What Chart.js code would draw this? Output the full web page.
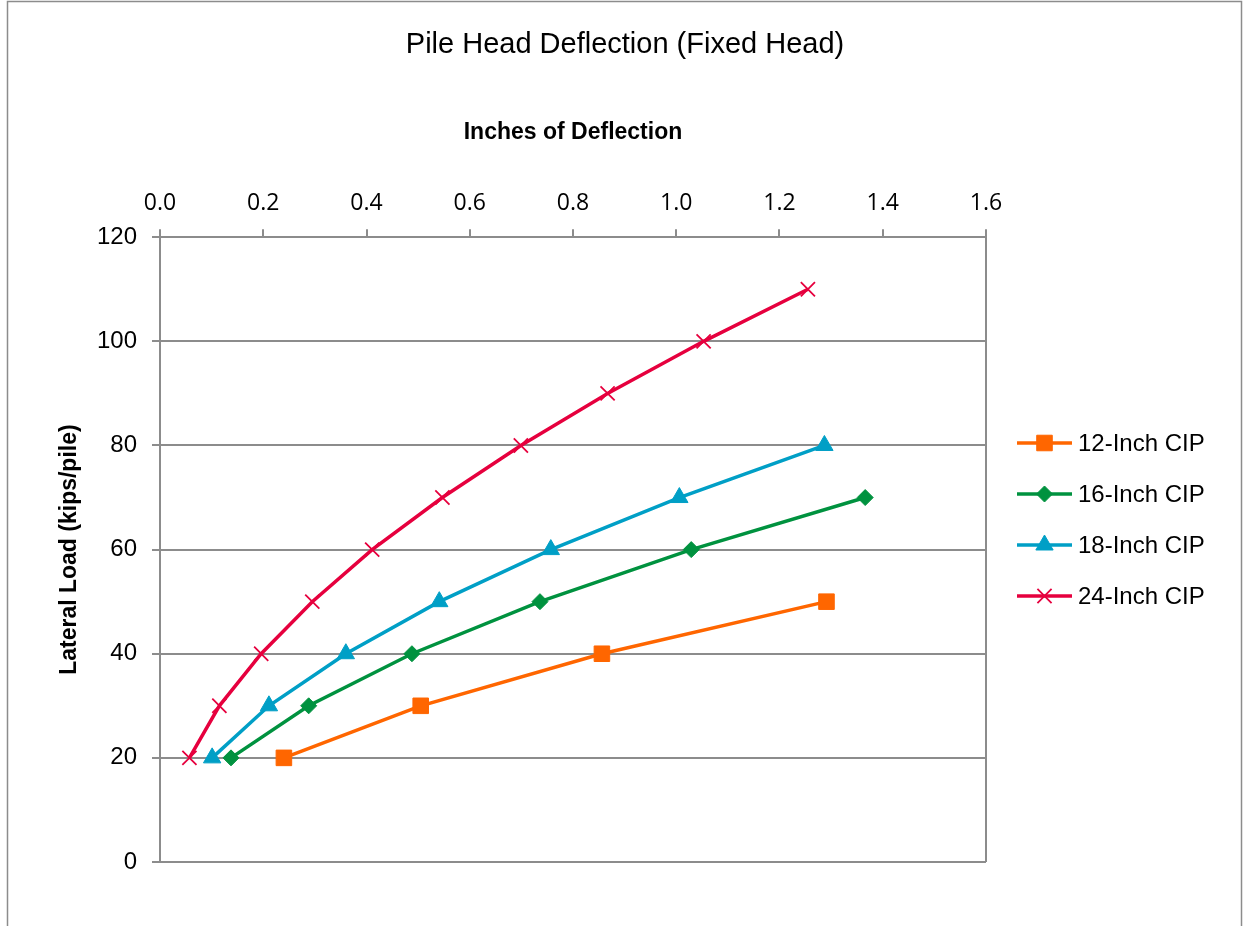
<!DOCTYPE html>
<html>
<head>
<meta charset="utf-8">
<title>Pile Head Deflection (Fixed Head)</title>
<script src="https://cdn.jsdelivr.net/npm/chart.js@4.4.0/dist/chart.umd.min.js"></script>
<style>
  html, body { margin: 0; padding: 0; background: #fff; }
  #wrap { width: 1244px; height: 926px; position: relative; }
</style>
</head>
<body>
<div id="wrap"><canvas id="grafico"></canvas></div>
<script>
// dados
const seriesNames = ['12-Inch CIP', '16-Inch CIP', '18-Inch CIP', '24-Inch CIP'];
const xTickLabels = ['0.0', '0.2', '0.4', '0.6', '0.8', '1.0', '1.2', '1.4', '1.6'];
const yTickLabels = ['0', '20', '40', '60', '80', '100', '120'];

const defl12 = [0.240, 0.505, 0.856, 1.291];
const load12 = [20, 30, 40, 50];
const defl16 = [0.1375, 0.288, 0.488, 0.736, 1.029, 1.366];
const load16 = [20, 30, 40, 50, 60, 70];
const defl18 = [0.101, 0.211, 0.360, 0.541, 0.757, 1.006, 1.287];
const load18 = [20, 30, 40, 50, 60, 70, 80];
const defl24 = [0.057, 0.115, 0.196, 0.295, 0.411, 0.547, 0.699, 0.867, 1.053, 1.255];
const load24 = [20, 30, 40, 50, 60, 70, 80, 90, 100, 110];

const cinza = '#8c8c8c';

function pontos(xs, ys) {
  return xs.map((x, i) => ({ x: x, y: ys[i] }));
}

function serie(nome, xs, ys, cor, estilo, raio, borda) {
  return {
    label: nome,
    data: pontos(xs, ys),
    borderColor: cor,
    backgroundColor: cor,
    borderWidth: 3.5,
    pointStyle: estilo,
    pointRadius: raio,
    pointHoverRadius: raio,
    pointBorderWidth: borda,
    pointBackgroundColor: cor,
    pointBorderColor: cor,
    showLine: true,
    tension: 0,
    fill: false
  };
}

// moldura externa
const moldura = {
  id: 'moldura',
  beforeDraw(chart) {
    const ctx = chart.ctx;
    ctx.save();
    ctx.strokeStyle = cinza;
    ctx.lineWidth = 1.5;
    ctx.strokeRect(7.5, 1.5, 1234, 1000);
    ctx.restore();
  }
};

// legenda com linha + marcador
const legenda = {
  id: 'legenda',
  afterDraw(chart) {
    const ctx = chart.ctx;
    const x0 = chart.chartArea.right + 31;
    let y = 443;
    chart.data.datasets.forEach(ds => {
      ctx.save();
      ctx.strokeStyle = ds.borderColor;
      ctx.lineWidth = ds.borderWidth;
      ctx.beginPath();
      ctx.moveTo(x0, y);
      ctx.lineTo(x0 + 55, y);
      ctx.stroke();
      ctx.fillStyle = ds.pointBackgroundColor;
      ctx.strokeStyle = ds.pointBorderColor;
      ctx.lineWidth = ds.pointBorderWidth;
      Chart.helpers.drawPoint(ctx, {
        pointStyle: ds.pointStyle,
        radius: ds.pointRadius,
        rotation: 0,
        borderWidth: ds.pointBorderWidth
      }, x0 + 27.5, y);
      ctx.fillStyle = '#000';
      ctx.font = '24px "Liberation Sans", Arial, sans-serif';
      ctx.textAlign = 'left';
      ctx.textBaseline = 'middle';
      ctx.fillText(ds.label, x0 + 61, y + 1);
      ctx.restore();
      y += 51;
    });
  }
};

const ctx = document.getElementById('grafico').getContext('2d');

new Chart(ctx, {
  type: 'line',
  data: {
    datasets: [
      serie(seriesNames[0], defl12, load12, '#FF6600', 'rect', 11, 1),
      serie(seriesNames[1], defl16, load16, '#00923F', 'rectRot', 8, 1),
      serie(seriesNames[2], defl18, load18, '#009FC6', 'triangle', 10, 1),
      serie(seriesNames[3], defl24, load24, '#E6003E', 'crossRot', 10, 1.8)
    ]
  },
  options: {
    responsive: true,
    maintainAspectRatio: false,
    animation: false,
    layout: {
      padding: { left: 8, right: 2, top: 0, bottom: 64 }
    },
    plugins: {
      legend: { display: false },
      tooltip: { enabled: false },
      title: {
        display: true,
        text: 'Pile Head Deflection (Fixed Head)',
        color: '#000',
        font: { family: '"Liberation Sans", Arial, sans-serif', size: 29, weight: 'normal' },
        padding: { top: 28, bottom: 0 }
      }
    },
    scales: {
      x: {
        type: 'linear',
        position: 'top',
        min: 0,
        max: 1.6,
        ticks: {
          stepSize: 0.2,
          color: '#000',
          padding: 12,
          font: { family: '"Open Sans", sans-serif', size: 23 },
          callback: (v, i) => xTickLabels[i]
        },
        grid: {
          color: c => (c.tick && Math.abs(c.tick.value - 1.6) < 1e-6) ? cinza : 'rgba(0,0,0,0)',
          tickColor: cinza,
          lineWidth: 2,
          tickLength: 8
        },
        border: { display: true, color: cinza, width: 2 },
        title: {
          display: true,
          text: 'Inches of Deflection',
          color: '#000',
          font: { family: '"Liberation Sans", Arial, sans-serif', size: 23, weight: 'bold' },
          padding: { top: 56, bottom: 0 }
        },
        afterFit: s => { s.height = 174.4; }
      },
      y: {
        type: 'linear',
        min: 0,
        max: 120,
        ticks: {
          stepSize: 20,
          color: '#000',
          padding: 15,
          font: { family: '"Liberation Sans", Arial, sans-serif', size: 24 },
          callback: (v, i) => yTickLabels[i]
        },
        grid: {
          color: cinza,
          tickColor: cinza,
          lineWidth: 2,
          tickLength: 8
        },
        border: { display: true, color: cinza, width: 2 },
        title: {
          display: true,
          text: 'Lateral Load (kips/pile)',
          color: '#000',
          font: { family: '"Liberation Sans", Arial, sans-serif', size: 23, weight: 'bold' },
          padding: { top: 48, bottom: 0 }
        },
        afterFit: s => { s.width = 152; }
      },
      espaco: {
        type: 'linear',
        position: 'right',
        display: true,
        ticks: { display: false },
        grid: { display: false },
        border: { display: false },
        afterFit: s => { s.width = 256; }
      }
    }
  },
  plugins: [moldura, legenda]
});
</script>
</body>
</html>
